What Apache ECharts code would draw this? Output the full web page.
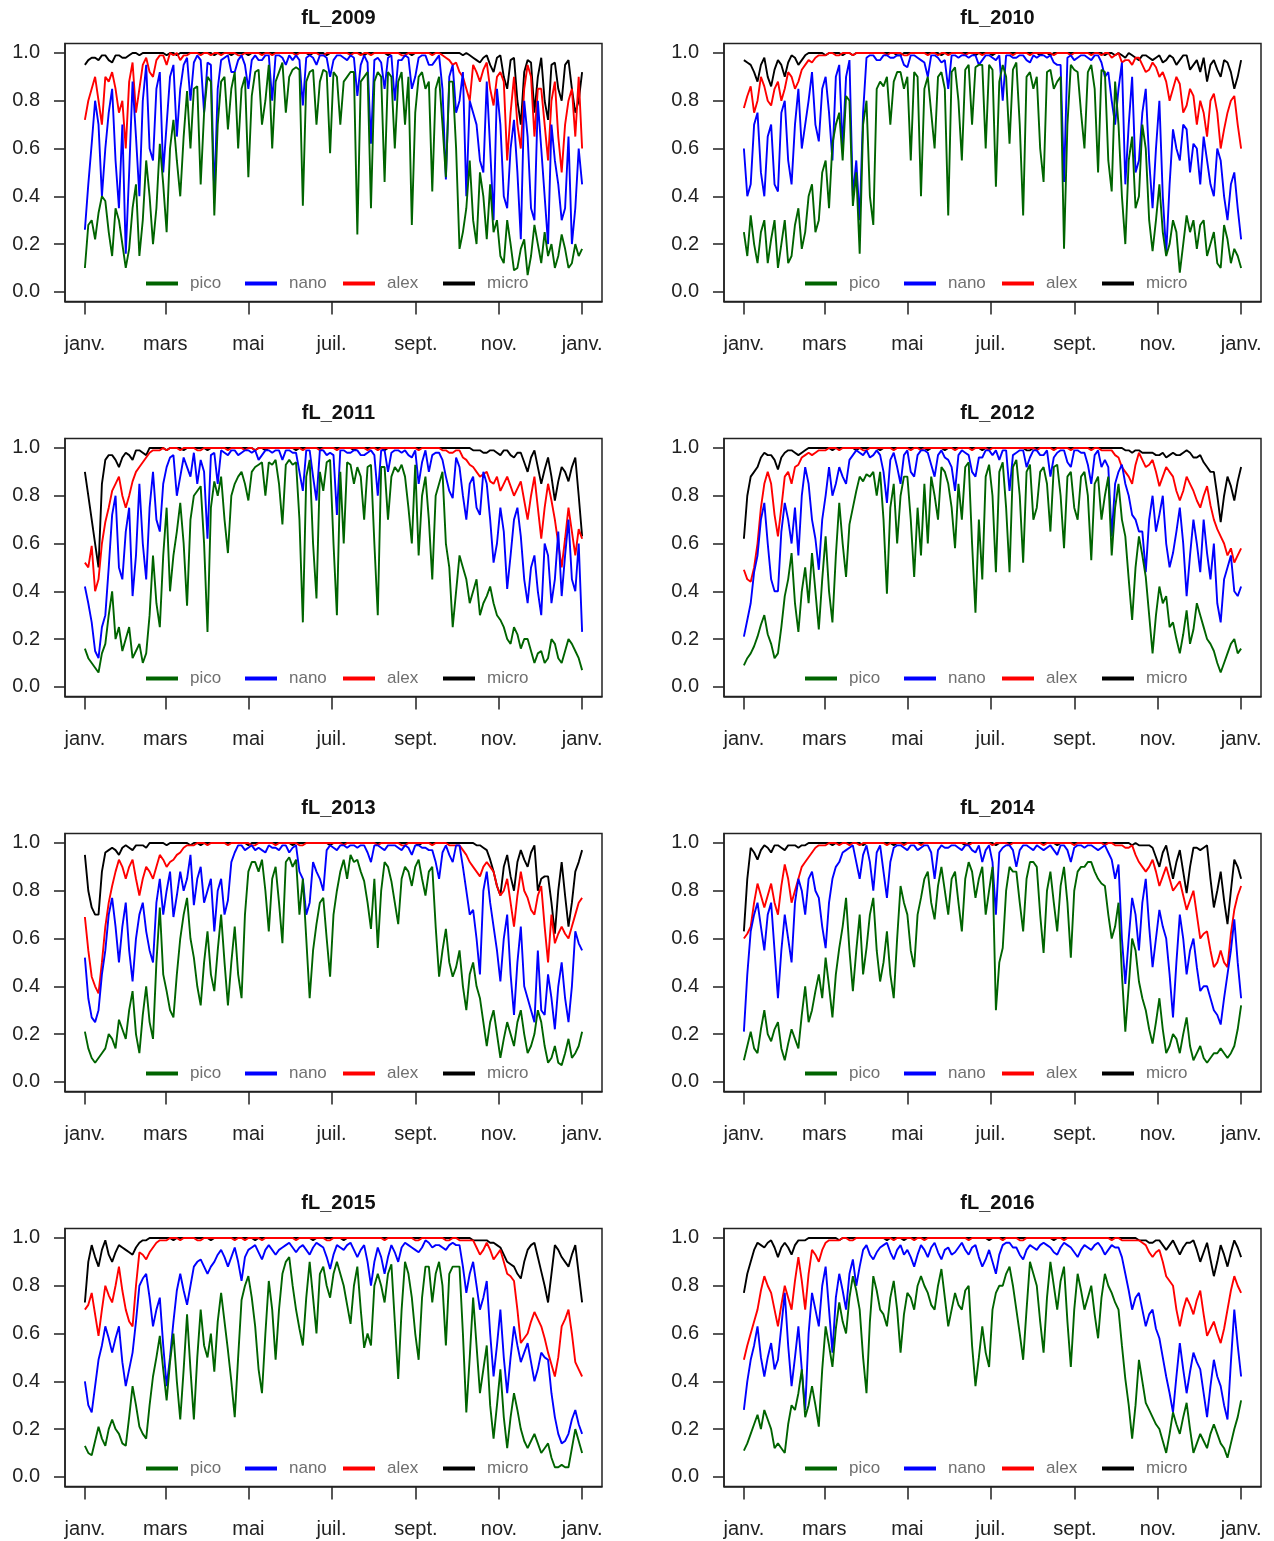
<!DOCTYPE html>
<html><head><meta charset="utf-8">
<script src="https://cdn.jsdelivr.net/npm/echarts@6.0.0/dist/echarts.min.js"></script>
<style>html,body{margin:0;padding:0;background:#fff}#c{width:1274px;height:1541px}</style>
</head><body><div id="c"></div>
<script>
// Axis ticks
const monthTickDays = [0, 59, 120, 181, 243, 304, 365];
const monthTickLabels = ['janv.', 'mars', 'mai', 'juil.', 'sept.', 'nov.', 'janv.'];
const yTickValues = [0, 0.2, 0.4, 0.6, 0.8, 1.0];
const legendNames = ['pico', 'nano', 'alex', 'micro'];
const panelTitles = ['fL_2009', 'fL_2010', 'fL_2011', 'fL_2012', 'fL_2013', 'fL_2014', 'fL_2015', 'fL_2016'];

// Values in percent. "main" arrays: days 0,5,...,365; "Mid" arrays: days 2.5,7.5,...,362.5
const pico2009 = [10,30,33,38,15,30,10,35,15,55, 20,62,25,72,40,84,85,45,90,32, 88,68,92,85,48,92,70,95,88,96, 90,94,36,92,70,93,58,90,88,92, 24,90,35,92,46,90,88,70,28,90, 85,42,90,48,88,18,35,30,50,22, 25,15,30,9,18,7,28,12,15,10, 24,10,20,18];
const pico2009Mid = [28,22,40,25,35,20,18,45,30,40, 35,45,60,55,65,60,86,75,88,70, 90,85,60,90,82,93,80,60,92,75, 93,93,88,93,88,92,92,70,90,92, 88,92,88,90,92,60,92,90,75,92, 88,85,70,88,60,25,55,20,40,45, 30,12,20,10,22,15,20,25,20,15, 18,12,15];
const nano2009 = [26,62,70,60,85,35,16,88,40,95, 55,92,70,95,85,98,96,97,96,40, 97,99,92,99,85,99,97,99,99,98, 99,99,78,99,95,99,90,99,98,99, 82,99,62,98,85,99,97,99,85,98, 99,95,99,47,95,80,40,75,55,88, 30,70,35,72,22,65,30,60,20,55, 30,65,35,45];
const nano2009Mid = [45,80,40,75,55,70,50,65,80,60, 85,50,90,65,95,80,99,75,95,85, 98,92,97,95,97,97,99,80,99,95, 97,97,98,98,99,98,97,99,97,98, 95,96,97,96,98,80,97,98,90,99, 95,97,85,90,75,92,80,70,50,60, 85,40,60,50,80,35,80,40,70,45, 35,20,60];
const alex2009 = [72,85,80,90,92,75,60,96,85,98, 90,99,95,99,97,99,100,99,100,100, 99,100,100,99,100,100,99,100,100,100, 100,99,100,100,100,99,100,100,100,99, 100,100,99,100,100,100,100,99,100,100, 100,99,100,98,95,92,85,95,88,96, 78,92,55,90,60,95,65,85,55,88, 50,80,65,60];
const alex2009Mid = [80,90,70,88,85,80,88,75,95,92, 97,99,100,100,99,100,100,100,99,100, 100,100,99,100,100,100,100,99,100,100, 100,100,100,100,99,100,100,100,100,100, 99,100,100,100,100,100,99,100,100,100, 100,100,99,97,96,90,80,92,93,85, 90,88,75,70,85,90,85,70,80,65, 70,85,90];
const micro2009 = [95,98,97,99,96,99,98,100,99,100, 100,100,99,100,100,100,100,100,100,99, 100,100,100,100,99,100,100,100,100,100, 100,100,100,99,100,100,100,100,100,100, 100,99,100,100,100,100,100,100,99,100, 100,100,100,100,100,100,100,98,96,99, 92,99,85,98,70,97,75,98,72,96, 80,97,75,92];
const micro2009Mid = [97,98,99,97,99,98,99,100,100,100, 100,100,100,99,100,100,100,100,100,100, 100,99,100,100,100,100,100,100,100,100, 100,100,100,100,100,99,100,100,100,100, 100,100,100,100,99,100,100,100,100,100, 100,100,100,100,100,99,99,97,98,95, 98,90,97,80,92,96,90,80,95,85, 95,85,80];

const pico2010 = [25,32,12,30,22,10,30,15,35,25, 45,30,55,62,75,82,36,16,80,28, 88,90,88,92,90,92,40,90,60,92, 32,94,55,95,94,95,95,44,95,62, 96,32,92,90,46,93,88,18,95,92, 60,95,50,92,42,70,20,65,40,60, 17,45,15,30,8,32,30,28,15,25, 10,22,18,10];
const pico2010Mid = [15,20,25,12,30,20,12,28,18,40, 25,50,35,70,55,80,50,70,40,85, 86,70,92,85,55,90,85,75,90,85, 92,80,93,70,95,60,93,88,90,93, 70,90,85,60,92,85,90,70,93,75, 92,85,93,55,88,40,55,35,70,30, 30,25,20,25,20,25,18,30,20,12, 28,12,15];
const nano2010 = [60,45,75,40,70,42,80,45,85,70, 92,63,90,55,95,90,40,30,98,99, 97,99,98,99,94,99,97,90,99,96, 85,99,99,98,99,97,99,97,80,99, 98,99,96,98,99,99,95,46,99,98, 99,97,99,90,80,85,45,90,55,85, 35,80,16,68,55,68,62,45,55,40, 55,30,50,22];
const nano2010Mid = [40,70,50,65,45,75,55,70,60,80, 70,85,75,90,60,97,55,75,99,97, 99,98,99,95,99,98,96,99,98,97, 99,98,99,99,95,99,98,99,99,98, 99,97,99,99,98,96,95,98,97,99, 98,99,96,92,70,96,70,50,75,55, 60,40,45,60,70,50,60,65,45,60, 40,45,35];
const alex2010 = [77,86,80,86,78,88,85,90,88,95, 96,99,99,100,99,100,99,100,100,100, 100,99,100,100,99,100,100,99,100,100, 99,100,100,100,100,99,100,100,100,100, 100,100,99,100,100,100,100,100,99,100, 100,99,100,100,98,100,97,95,98,92, 96,90,88,85,87,78,82,80,65,83, 60,75,82,60];
const alex2010Mid = [82,75,90,80,85,80,92,85,93,97, 98,99,100,99,100,100,100,100,100,100, 100,100,100,99,100,100,100,100,99,100, 100,100,99,100,100,100,100,100,100,99, 100,100,100,100,100,99,100,100,100,100, 100,100,99,100,99,96,97,98,95,93, 94,92,80,90,75,85,70,75,80,75, 68,80,70];
const micro2010 = [97,95,88,98,86,97,90,99,95,99, 100,100,99,100,100,100,99,100,100,100, 100,100,100,99,100,100,100,100,100,99, 100,100,100,100,99,100,100,100,100,100, 100,100,100,100,100,99,100,100,100,100, 100,100,100,99,100,100,98,99,97,99, 97,99,97,98,97,99,95,92,88,97, 90,96,85,97];
const micro2010Mid = [96,92,95,90,93,95,96,98,97,100, 100,100,100,100,99,100,100,100,100,100, 100,100,99,100,100,100,100,100,100,100, 100,100,100,100,100,100,99,100,100,100, 100,100,100,99,100,100,100,100,100,100, 100,100,100,100,99,99,100,98,99,98, 98,96,99,95,99,93,97,98,95,93, 97,92,90];

const pico2011 = [16,10,6,18,40,25,20,12,18,14, 55,25,75,55,77,34,80,84,23,86, 88,56,85,90,78,92,94,94,95,68, 95,94,27,95,37,82,95,30,60,93, 92,70,93,30,92,88,90,88,60,55, 88,45,85,60,25,55,45,40,30,38, 35,28,20,25,16,20,10,15,12,18, 10,20,15,7];
const pico2011Mid = [12,8,14,30,20,15,25,15,10,30, 35,55,40,65,60,70,82,60,75,80, 70,80,88,85,90,93,80,93,85,93, 93,70,88,60,90,94,60,90,94,85, 88,92,60,92,70,92,93,75,93,80, 70,80,90,50,40,50,35,45,35,42, 30,25,18,22,20,15,14,10,20,12, 15,18,12];
const nano2011 = [42,27,12,30,72,50,65,38,85,45, 90,65,92,97,88,92,98,95,62,98, 99,97,99,98,99,99,97,99,99,95, 99,98,82,99,78,99,98,72,99,98, 99,97,99,80,99,98,99,99,96,85, 99,97,98,88,79,92,70,88,72,85, 52,75,41,70,63,35,55,30,55,45, 38,70,40,23];
const nano2011Mid = [35,15,25,50,80,45,75,55,60,75, 70,85,96,80,96,88,85,90,97,85, 98,99,97,99,98,95,99,98,99,99, 98,90,99,88,99,97,97,99,98,99, 97,98,97,99,90,99,98,97,99,94, 90,98,95,82,96,80,85,75,90,70, 60,65,55,75,45,50,40,60,35,65, 55,45,60];
const alex2011 = [52,59,45,69,82,88,75,86,92,96, 99,99,99,100,99,100,100,99,100,100, 100,99,100,100,100,99,100,100,100,100, 100,100,99,100,100,100,100,99,100,100, 100,100,100,99,100,100,100,100,100,99, 100,100,100,99,98,99,95,92,88,90, 85,82,88,80,86,70,88,62,85,70, 50,75,55,62];
const alex2011Mid = [50,40,60,75,85,80,80,90,94,98, 99,100,100,100,100,100,99,100,100,100, 100,100,100,99,100,100,100,100,100,100, 100,100,100,100,99,100,100,100,100,100, 100,99,100,100,100,100,100,100,100,100, 100,100,99,98,99,96,93,90,89,86, 88,85,84,83,78,80,75,75,78,60, 62,65,66];
const micro2011 = [90,70,50,95,97,92,98,95,99,97, 100,100,99,100,100,100,100,100,99,100, 100,100,100,100,100,99,100,100,100,100, 100,99,100,100,100,100,100,100,100,100, 100,100,100,100,99,100,100,100,100,100, 100,100,100,100,100,100,100,99,99,98, 99,97,99,96,98,90,99,85,96,78, 92,86,96,63];
const micro2011Mid = [80,60,85,97,95,96,97,99,98,100, 100,100,100,100,99,100,100,100,100,100, 100,100,100,100,100,100,99,100,100,100, 100,100,100,100,100,100,100,100,100,99, 100,100,100,100,100,100,100,100,100,100, 100,100,100,100,100,100,100,99,98,99, 98,99,97,98,94,96,92,91,88,86, 90,92,80];

const pico2012 = [9,14,21,30,18,14,38,56,23,50, 56,24,63,27,77,46,75,88,89,90, 90,39,85,80,88,46,55,60,80,92, 85,58,70,94,31,45,93,48,94,48, 95,52,93,75,92,65,93,58,90,70, 90,53,88,80,55,85,63,28,63,46, 14,42,38,27,14,32,24,30,20,15, 6,14,20,16];
const pico2012Mid = [12,17,26,22,12,25,45,35,40,35, 40,45,40,55,60,68,82,86,88,80, 70,75,60,88,70,75,85,88,70,90, 75,85,92,60,70,88,80,90,75,92, 80,90,70,90,85,92,80,88,75,88, 80,85,70,88,75,70,45,50,55,30, 30,35,25,20,22,18,35,25,18,10, 10,18,14];
const nano2012 = [21,35,55,77,45,40,77,60,55,92, 70,49,80,80,92,85,97,98,99,97, 97,77,98,85,99,88,99,98,88,99, 95,82,99,97,88,96,99,99,99,82, 98,99,96,99,97,88,98,99,92,99, 98,85,99,95,63,90,85,72,65,48, 80,72,60,56,75,38,70,48,56,60, 27,50,40,42];
const nano2012Mid = [28,48,70,60,40,65,70,75,80,85, 62,70,92,85,88,95,99,97,96,99, 90,95,92,97,90,97,99,93,97,96, 92,97,98,90,96,99,97,95,99,97, 99,92,99,97,99,96,99,94,99,98, 93,97,92,92,85,93,80,70,65,70, 65,80,50,65,60,55,60,70,45,35, 45,55,38];
const alex2012 = [49,44,60,85,85,63,88,85,93,97, 97,99,99,100,99,100,100,100,99,100, 100,100,99,100,100,100,99,100,100,100, 100,99,100,100,100,100,99,100,100,100, 100,100,100,99,100,100,100,100,99,100, 100,99,100,99,99,96,90,85,98,92, 95,84,92,88,78,88,82,75,84,70, 63,55,52,58];
const alex2012Mid = [45,50,75,90,72,75,90,92,96,98, 98,99,100,100,100,100,100,99,100,100, 100,100,100,100,99,100,100,100,100,100, 100,100,100,99,100,100,100,100,100,100, 100,100,100,100,100,99,100,100,100,100, 100,100,99,99,97,92,88,93,95,93, 90,88,90,82,82,85,78,80,76,66, 60,58,55];
const micro2012 = [62,88,92,98,97,91,98,99,97,99, 100,100,100,99,100,100,100,100,100,100, 99,100,100,100,100,100,100,99,100,100, 100,100,100,100,100,99,100,100,100,100, 100,100,99,100,100,100,100,100,100,100, 100,100,100,100,100,100,99,98,99,98, 98,97,96,98,97,99,96,97,92,90, 69,88,78,92];
const micro2012Mid = [80,90,96,97,95,96,99,98,98,100, 100,100,100,100,100,100,99,100,100,100, 100,100,100,100,100,100,100,100,100,99, 100,100,100,100,100,100,100,100,100,100, 100,99,100,100,100,100,100,100,100,100, 100,100,100,100,100,100,99,99,98,98, 97,98,97,97,98,98,96,94,90,80, 80,84,86];

const pico2013 = [21,10,10,14,18,26,18,38,12,40, 18,73,38,27,60,77,52,32,63,38, 70,32,65,35,88,92,93,63,90,58, 94,93,85,35,66,77,44,80,93,95, 93,84,64,56,92,84,66,90,82,93, 78,90,44,64,44,55,30,50,35,15, 30,10,25,15,30,12,20,25,8,15, 7,18,12,21];
const pico2013Mid = [14,8,12,20,14,22,30,20,28,25, 50,45,30,45,70,60,40,50,45,55, 50,50,45,70,92,88,80,85,75,92, 90,70,60,55,75,60,70,88,85,92, 88,75,85,80,90,75,85,88,90,85, 88,65,55,50,48,40,45,40,25,25, 20,18,20,25,20,15,30,15,10,8, 12,10,15];
const nano2013 = [52,27,30,55,77,50,75,42,70,63, 50,85,80,69,88,85,74,90,80,63, 85,76,96,99,98,97,97,99,98,99, 96,99,85,75,88,80,99,97,99,99, 98,99,92,99,97,99,98,99,95,99, 98,97,85,99,92,99,80,72,45,88, 65,42,70,28,65,35,25,30,45,22, 50,25,63,55];
const nano2013Mid = [35,25,45,70,65,65,55,60,75,55, 75,70,88,78,80,95,85,75,85,80, 70,92,99,97,99,98,96,98,97,99, 98,88,70,92,85,97,98,99,98,99, 99,96,99,98,99,99,97,98,99,98, 97,92,96,95,99,90,70,60,80,75, 55,60,45,50,40,30,55,28,35,40, 35,40,58];
const alex2013 = [69,44,37,65,82,93,85,93,78,90, 85,95,90,93,96,99,99,100,99,100, 100,99,100,100,100,99,100,100,99,100, 100,100,99,100,100,100,100,100,99,100, 100,100,100,99,100,100,100,99,100,100, 100,99,100,100,99,99,95,90,86,92, 88,78,85,65,88,77,70,82,50,58, 65,60,70,77];
const alex2013Mid = [55,40,50,75,88,90,90,85,85,88, 90,93,92,95,98,99,100,100,100,100, 100,100,100,100,99,100,100,100,100,100, 100,99,100,100,100,100,100,100,100,100, 100,100,100,100,100,100,99,100,100,100, 100,100,100,99,99,97,92,88,90,90, 82,80,75,78,80,72,78,65,70,62, 62,65,75];
const micro2013 = [95,73,70,96,98,95,99,97,99,98, 100,100,99,100,100,100,100,99,100,100, 100,100,100,100,99,100,100,100,100,100, 100,100,100,100,100,100,99,100,100,100, 100,100,100,100,100,100,100,100,100,99, 100,100,100,100,100,100,100,100,99,97, 88,78,95,80,97,90,99,85,86,62, 92,65,88,97];
const micro2013Mid = [80,70,88,97,97,98,98,99,99,100, 100,100,100,100,100,99,100,100,100,100, 100,100,100,100,100,100,100,100,100,100, 99,100,100,100,100,100,100,100,100,100, 100,100,100,100,100,100,100,100,100,100, 100,100,100,100,100,100,100,99,98,93, 82,90,86,92,93,96,80,86,75,80, 78,75,92];

const pico2014 = [9,21,12,30,17,25,9,22,14,40, 30,45,52,27,56,77,38,70,56,77, 42,63,35,82,70,48,77,88,68,90, 70,88,63,92,77,90,80,30,56,90, 88,63,92,90,54,88,63,90,52,88, 90,92,85,82,60,75,21,60,42,30, 16,35,12,20,12,27,9,15,8,12, 14,10,15,32];
const pico2014Mid = [15,14,22,20,22,14,16,18,28,25, 38,35,40,45,65,55,55,45,70,55, 50,45,60,75,55,70,85,75,82,80, 85,75,85,88,85,70,90,50,80,88, 75,85,92,70,80,75,82,75,80,90, 92,88,83,70,65,45,40,55,35,22, 25,22,15,18,20,15,12,10,10,12, 12,12,22];
const nano2014 = [21,63,75,55,75,35,70,50,85,70, 88,77,56,85,92,97,99,85,99,80, 99,77,98,99,97,99,98,99,85,99, 98,99,97,99,96,92,99,70,98,99, 90,99,98,99,97,99,95,99,92,99, 98,99,97,99,93,91,41,77,55,85, 48,72,60,27,70,45,60,38,40,30, 24,45,68,35];
const nano2014Mid = [45,70,65,70,55,55,60,75,80,85, 80,65,75,90,96,98,92,95,92,96, 88,92,99,98,99,97,99,96,97,98, 99,98,99,97,99,97,92,96,99,97, 97,99,97,98,98,97,99,97,98,99, 99,98,98,96,85,60,60,70,75,65, 60,65,45,50,60,55,48,40,35,28, 35,55,50];
const alex2014 = [60,65,83,73,83,70,91,75,85,92, 96,99,99,100,99,100,100,99,100,100, 100,99,100,100,100,100,99,100,100,100, 100,100,100,99,100,100,100,100,100,99, 100,100,100,100,99,100,100,100,100,100, 100,100,100,99,100,99,98,99,92,88, 93,82,90,80,84,72,80,60,63,48, 55,48,72,82];
const alex2014Mid = [62,75,78,78,75,82,85,80,90,94, 98,99,100,100,100,99,100,100,100,100, 100,100,100,99,100,100,100,100,100,100, 100,100,100,100,100,100,99,100,100,100, 100,100,100,100,100,100,100,100,99,100, 100,100,100,100,99,99,98,95,90,90, 88,86,85,82,78,76,70,62,55,50, 50,62,78];
const micro2014 = [63,98,93,99,96,99,97,99,98,99, 100,100,100,99,100,100,100,100,100,100, 100,100,99,100,100,100,100,100,100,100, 100,100,100,100,100,100,100,99,100,100, 100,100,100,100,100,100,99,100,100,100, 100,100,100,100,100,100,100,99,99,99, 98,90,99,85,97,79,98,97,99,73, 88,66,93,85];
const micro2014Mid = [85,96,97,98,99,98,99,99,99,100, 100,100,100,100,100,100,100,99,100,100, 100,100,100,100,100,100,100,100,100,100, 100,100,99,100,100,100,100,100,100,100, 100,100,100,100,100,100,100,100,100,100, 100,100,100,100,100,100,100,100,99,99, 94,96,92,92,88,90,98,98,85,80, 76,80,90];

const pico2015 = [13,9,21,13,24,18,13,38,21,16, 42,59,32,60,24,68,24,70,50,44, 77,53,25,74,84,63,35,82,49,85, 92,70,55,90,60,88,75,90,80,64, 88,54,55,85,73,89,41,90,75,49, 88,73,90,55,88,88,27,75,35,55, 16,45,12,35,20,12,18,10,14,4, 5,4,20,10];
const pico2015Mid = [10,15,16,20,20,14,25,30,18,30, 50,45,48,40,45,45,50,55,60,65, 65,40,50,80,75,45,60,70,70,90, 80,62,75,75,85,80,85,85,72,80, 70,60,80,80,85,65,70,85,60,75, 88,85,80,85,88,60,50,55,45,30, 30,25,25,28,15,15,14,12,8,4, 4,12,15];
const nano2015 = [40,27,49,63,52,63,38,52,80,85, 63,75,38,65,85,72,88,91,85,90, 95,88,96,82,95,97,91,97,93,96, 98,94,97,93,98,96,87,97,95,98, 92,97,80,96,85,97,90,98,96,94, 99,96,97,95,98,97,77,90,70,82, 42,70,35,63,48,56,40,52,49,25, 14,18,28,18];
const nano2015Mid = [30,38,55,58,58,48,45,65,83,75, 70,55,50,78,78,80,90,88,88,93, 92,92,90,92,96,94,95,95,95,97, 96,96,95,96,97,92,93,96,97,95, 95,90,90,92,92,94,96,97,95,96, 98,97,96,97,97,88,85,80,75,60, 55,50,50,55,52,48,45,50,35,18, 15,24,22];
const alex2015 = [70,77,59,80,73,88,70,63,94,91, 96,99,99,100,99,100,100,99,100,100, 100,100,99,100,100,100,99,100,100,100, 100,99,100,100,100,100,99,100,100,100, 100,100,100,100,99,100,100,100,100,99, 100,100,100,99,100,99,99,99,93,98, 91,95,85,82,56,60,69,63,52,42, 63,70,48,42];
const alex2015Mid = [72,68,70,76,80,78,65,80,93,94, 98,99,100,100,100,100,99,100,100,100, 100,100,100,99,100,100,100,100,100,100, 100,100,100,100,100,99,100,100,100,100, 100,100,100,100,100,100,100,100,99,100, 100,100,100,99,100,99,99,96,95,95, 93,90,84,70,58,65,66,58,47,50, 66,60,45];
const micro2015 = [73,97,88,99,90,97,95,93,98,99, 100,100,100,99,100,100,100,100,100,100, 100,100,100,100,100,99,100,100,100,100, 100,100,100,100,100,100,100,100,99,100, 100,100,100,100,100,100,100,100,100,100, 100,100,100,100,100,100,100,99,99,99, 98,96,90,88,83,95,98,86,73,97, 92,88,97,73];
const micro2015Mid = [90,92,95,93,94,96,94,96,99,100, 100,100,100,100,100,100,100,100,99,100, 100,100,100,100,100,100,100,100,100,100, 100,100,100,99,100,100,100,100,100,100, 100,100,100,100,100,100,100,100,100,100, 100,100,100,100,100,100,100,99,99,98, 97,93,89,85,90,97,92,80,85,95, 90,93,85];

const pico2016 = [11,18,26,28,20,14,10,30,35,25, 38,21,63,46,73,60,84,70,35,84, 70,63,82,52,77,70,84,77,70,87, 63,77,70,80,38,63,46,77,80,88, 70,49,90,80,52,90,70,88,46,85, 70,80,58,85,77,70,41,16,49,31, 25,20,10,27,18,31,10,18,12,22, 14,8,20,32];
const pico2016Mid = [14,22,20,24,12,12,22,28,45,30, 30,45,55,62,65,75,78,50,65,78, 68,75,70,68,75,80,80,72,80,75, 70,72,78,55,50,52,70,80,85,80, 60,70,85,65,75,80,82,65,70,78, 75,68,75,80,73,55,30,30,40,28, 22,15,18,22,25,20,14,15,18,18, 12,14,25];
const nano2016 = [28,49,63,42,56,49,77,38,63,28, 77,63,88,52,85,70,91,88,97,91, 96,98,91,97,95,88,97,92,98,91, 96,94,98,93,97,88,95,85,97,98, 96,91,97,95,98,96,93,98,96,92, 97,95,98,93,97,96,85,70,77,63, 70,58,42,27,56,35,52,45,25,49, 38,24,70,42];
const nano2016Mid = [40,55,50,50,45,63,55,50,45,60, 70,80,70,75,78,85,80,95,93,94, 97,94,95,93,92,93,95,96,94,95, 93,96,95,96,92,91,90,93,98,96, 93,95,96,97,97,94,96,97,94,95, 96,97,96,95,96,92,78,75,70,68, 62,50,35,42,45,44,48,35,38,42, 30,48,55];
const alex2016 = [49,60,70,84,77,63,80,70,92,70, 95,90,98,99,99,100,99,100,100,100, 100,100,99,100,100,99,100,100,100,100, 100,100,100,99,100,100,100,100,99,100, 100,99,100,100,100,100,100,99,100,100, 100,100,100,100,99,100,99,99,99,97, 92,95,84,80,63,75,68,78,59,65, 56,70,84,77];
const alex2016Mid = [55,65,78,80,70,72,75,82,82,85, 93,95,99,99,100,99,100,100,100,100, 100,100,100,100,100,100,99,100,100,100, 100,100,100,100,100,100,100,100,100,100, 99,100,100,100,100,100,100,100,100,100, 100,100,100,100,100,99,99,99,98,94, 94,90,82,70,70,72,74,68,62,60, 62,78,80];
const micro2016 = [77,90,98,96,99,92,98,93,99,99, 100,100,100,100,99,100,100,100,100,100, 100,99,100,100,100,100,100,100,100,100, 100,100,100,100,100,100,99,100,100,100, 100,100,100,100,100,100,100,100,100,100, 100,100,100,100,100,100,100,100,99,99, 98,99,95,99,93,98,99,90,98,84, 97,88,99,92];
const micro2016Mid = [85,95,97,98,96,96,96,97,99,100, 100,100,100,100,100,100,100,100,100,100, 100,100,100,99,100,100,100,100,100,100, 100,100,100,100,100,100,100,100,100,100, 100,100,100,100,100,99,100,100,100,100, 100,100,100,100,100,100,100,100,99,98, 99,97,97,96,96,98,95,94,91,90, 93,94,96];

function interleave(main, mid) {
  const out = [];
  for (let k = 0; k < main.length; k++) {
    out.push(main[k]);
    if (k < mid.length) out.push(mid[k]);
  }
  return out;
}

const panelData = [
  {pico: interleave(pico2009, pico2009Mid), nano: interleave(nano2009, nano2009Mid), alex: interleave(alex2009, alex2009Mid), micro: interleave(micro2009, micro2009Mid)},
  {pico: interleave(pico2010, pico2010Mid), nano: interleave(nano2010, nano2010Mid), alex: interleave(alex2010, alex2010Mid), micro: interleave(micro2010, micro2010Mid)},
  {pico: interleave(pico2011, pico2011Mid), nano: interleave(nano2011, nano2011Mid), alex: interleave(alex2011, alex2011Mid), micro: interleave(micro2011, micro2011Mid)},
  {pico: interleave(pico2012, pico2012Mid), nano: interleave(nano2012, nano2012Mid), alex: interleave(alex2012, alex2012Mid), micro: interleave(micro2012, micro2012Mid)},
  {pico: interleave(pico2013, pico2013Mid), nano: interleave(nano2013, nano2013Mid), alex: interleave(alex2013, alex2013Mid), micro: interleave(micro2013, micro2013Mid)},
  {pico: interleave(pico2014, pico2014Mid), nano: interleave(nano2014, nano2014Mid), alex: interleave(alex2014, alex2014Mid), micro: interleave(micro2014, micro2014Mid)},
  {pico: interleave(pico2015, pico2015Mid), nano: interleave(nano2015, nano2015Mid), alex: interleave(alex2015, alex2015Mid), micro: interleave(micro2015, micro2015Mid)},
  {pico: interleave(pico2016, pico2016Mid), nano: interleave(nano2016, nano2016Mid), alex: interleave(alex2016, alex2016Mid), micro: interleave(micro2016, micro2016Mid)}
];

const colors = {pico: '#006400', nano: '#0000ff', alex: '#ff0000', micro: '#000000'};
const drawOrder = ['micro', 'alex', 'nano', 'pico'];
const legendOffsets = [0, 99, 197, 297];
const FONT = "'Liberation Sans', Arial, sans-serif";
const AXIS_LINE = {show: true, onZero: false, lineStyle: {color: '#222', width: 1.5}};

const grid = [], xAxis = [], yAxis = [], series = [], title = [], legend = [];
panelData.forEach((p, i) => {
  const r = Math.floor(i / 2), c = i % 2;
  const left = 65 + 659 * c, top = 43.4 + 395 * r;
  grid.push({left: left, top: top, width: 537, height: 258, show: true,
    borderColor: '#222', borderWidth: 1.5, backgroundColor: 'transparent'});
  title.push({text: panelTitles[i], left: left + 268.5, top: 3 + 395 * r, textAlign: 'center',
    textStyle: {fontSize: 20, fontWeight: 'bold', color: '#111', fontFamily: FONT}});
  legendNames.forEach((nm, j) => {
    legend.push({data: [nm], left: 146 + 659 * c + legendOffsets[j], top: 275 + 395 * r, padding: 0,
      icon: 'rect', itemWidth: 32, itemHeight: 4, selectedMode: false,
      textStyle: {fontSize: 17, color: '#707070', fontFamily: FONT, padding: [0, 0, 0, 7]}});
  });
  xAxis.push({type: 'value', gridIndex: i, min: -14.6, max: 379.6, position: 'bottom',
    axisLine: AXIS_LINE, splitLine: {show: false},
    axisTick: {show: true, inside: false, customValues: monthTickDays, length: 13, lineStyle: {color: '#222', width: 1.5}},
    axisLabel: {show: true, customValues: monthTickDays, margin: 33, fontSize: 20, color: '#222', fontFamily: FONT,
      formatter: v => monthTickLabels[monthTickDays.indexOf(v)]}});
  yAxis.push({type: 'value', gridIndex: i, min: -0.04, max: 1.04, position: 'left',
    axisLine: AXIS_LINE, splitLine: {show: false},
    axisTick: {show: true, inside: false, customValues: yTickValues, length: 11, lineStyle: {color: '#222', width: 1.5}},
    axisLabel: {show: true, customValues: yTickValues, margin: 25, fontSize: 20, color: '#222', fontFamily: FONT,
      padding: [4, 0, 0, 0], formatter: v => v.toFixed(1)}});
  drawOrder.forEach(name => {
    const arr = p[name];
    series.push({type: 'line', name: name, xAxisIndex: i, yAxisIndex: i,
      data: arr.map((v, k) => [k * 365 / (arr.length - 1), v / 100]),
      showSymbol: false, symbol: 'none', clip: true,
      color: colors[name], itemStyle: {color: colors[name]},
      lineStyle: {width: 1.9, color: colors[name]}});
  });
});

const chart = echarts.init(document.getElementById('c'), null, {renderer: 'canvas'});
chart.setOption({animation: false, backgroundColor: '#fff', title: title, legend: legend,
  grid: grid, xAxis: xAxis, yAxis: yAxis, series: series});
</script></body></html>
